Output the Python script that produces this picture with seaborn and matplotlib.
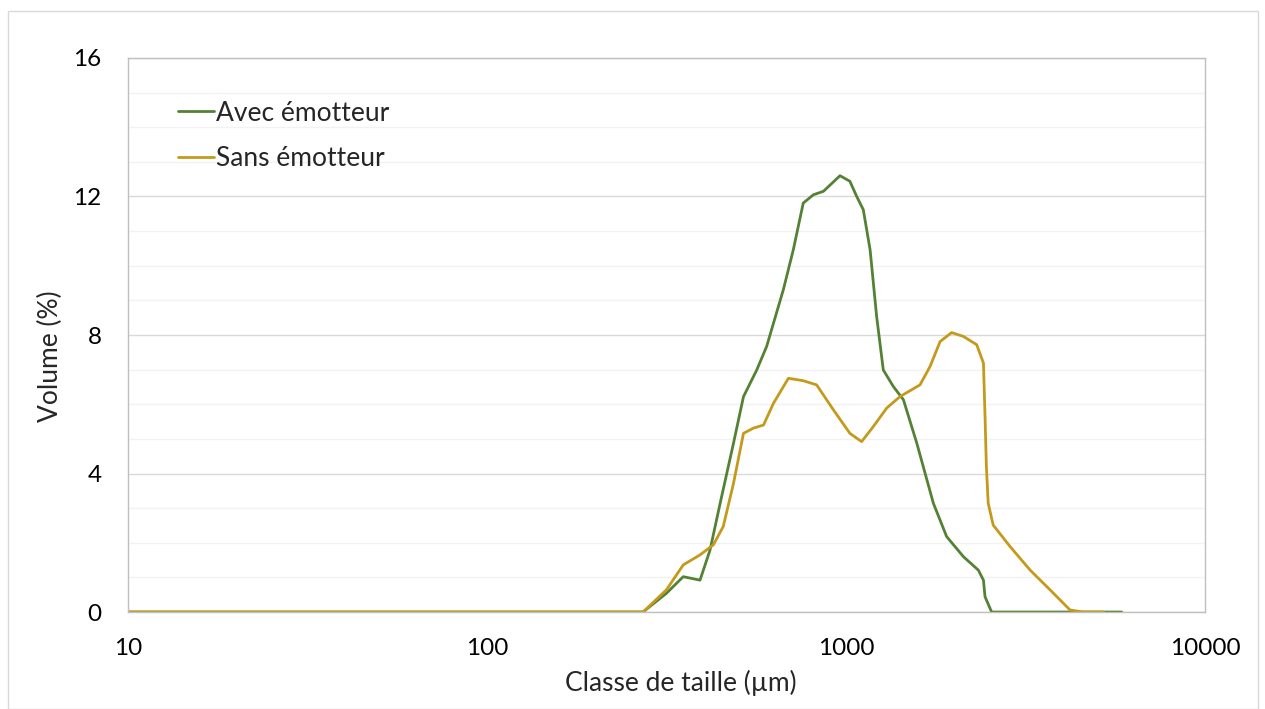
import matplotlib
matplotlib.use("Agg")
import matplotlib.pyplot as plt
import seaborn as sns
import pandas as pd
from matplotlib.patches import Rectangle
from matplotlib.ticker import FixedLocator, NullFormatter

# --- données ---
taille_avec = [10, 100, 272, 316, 352, 392, 418, 446, 486, 518, 564, 601, 669, 713,
               760, 811, 865, 962, 1025, 1071, 1117, 1167, 1217, 1270, 1355, 1445,
               1574, 1751, 1906, 2122, 2336, 2414, 2439, 2544, 4000, 5860]
volume_avec = [0, 0, 0, 0.54, 1.02, 0.92, 1.79, 3.14, 4.88, 6.22, 6.99, 7.67, 9.31, 10.46,
               11.81, 12.05, 12.15, 12.6, 12.44, 12.0, 11.62, 10.46, 8.53, 6.99, 6.51, 6.13,
               4.88, 3.14, 2.18, 1.60, 1.21, 0.92, 0.44, 0, 0, 0]

taille_sans = [10, 100, 272, 316, 352, 392, 427, 455, 486, 518, 552, 589, 628, 691,
               760, 828, 922, 1025, 1105, 1192, 1298, 1413, 1607, 1714, 1828, 1968,
               2122, 2312, 2414, 2439, 2460, 2489, 2570, 2864, 3257, 3701, 4205, 4570, 5215]
volume_sans = [0, 0, 0, 0.64, 1.36, 1.65, 1.94, 2.47, 3.72, 5.16, 5.31, 5.40, 6.03, 6.75,
               6.68, 6.56, 5.84, 5.16, 4.92, 5.36, 5.89, 6.22, 6.56, 7.09, 7.81, 8.07,
               7.96, 7.72, 7.19, 5.64, 4.2, 3.14, 2.51, 1.89, 1.21, 0.64, 0.06, 0, 0]

df = pd.concat([
    pd.DataFrame({'taille': taille_avec, 'volume': volume_avec, 'serie': 'Avec émotteur'}),
    pd.DataFrame({'taille': taille_sans, 'volume': volume_sans, 'serie': 'Sans émotteur'}),
])

sns.set_theme(style="white")
plt.rcParams['font.family'] = ['Lato', 'DejaVu Sans']

fig = plt.figure(figsize=(12.65, 7.09), dpi=100)
ax = fig.add_axes([0.1012, 0.1368, 0.8514, 0.7814])

# cadre autour de la figure
fig.patches.append(Rectangle((8 / 1265, 0), 1250 / 1265, 1 - 11 / 709, transform=fig.transFigure,
                             fill=False, edgecolor='#D9D9D9', linewidth=1))

sns.lineplot(data=df, x='taille', y='volume', hue='serie', sort=False, ax=ax,
             palette={'Avec émotteur': '#548235', 'Sans émotteur': '#C49A1C'},
             linewidth=2.0, estimator=None)

ax.set_xscale('log')
ax.set_xlim(10, 10000)
ax.set_ylim(0, 16)
ax.set_xticks([10, 100, 1000, 10000])
ax.set_xticklabels(['10', '100', '1000', '10000'])
ax.xaxis.set_minor_formatter(NullFormatter())
ax.xaxis.set_minor_locator(FixedLocator([]))
ax.set_yticks([0, 4, 8, 12, 16])
ax.set_yticks(range(0, 17), minor=True)
ax.grid(True, which='major', axis='y', color='#D9D9D9', linewidth=1)
ax.grid(True, which='minor', axis='y', color='#F2F2F2', linewidth=1)
ax.set_axisbelow(True)
ax.tick_params(axis='both', which='both', length=0, labelsize=17.5, colors='black')
ax.tick_params(axis='y', pad=19)
ax.tick_params(axis='x', pad=19)

for s in ['left', 'top', 'right', 'bottom']:
    ax.spines[s].set_color('#BFBFBF')
    ax.spines[s].set_linewidth(1)

ax.set_xlabel('Classe de taille (µm)', fontsize=19)
ax.set_ylabel('Volume (%)', fontsize=19)
ax.xaxis.set_label_coords(0.513, -0.105)
ax.yaxis.set_label_coords(-0.06, 0.462)

ax.legend(title=None, frameon=False, loc='upper left', bbox_to_anchor=(0.024, 0.966),
          fontsize=19, handlelength=1.36, handletextpad=0.1, labelspacing=0.78)

plt.savefig('out.png', dpi=100)
